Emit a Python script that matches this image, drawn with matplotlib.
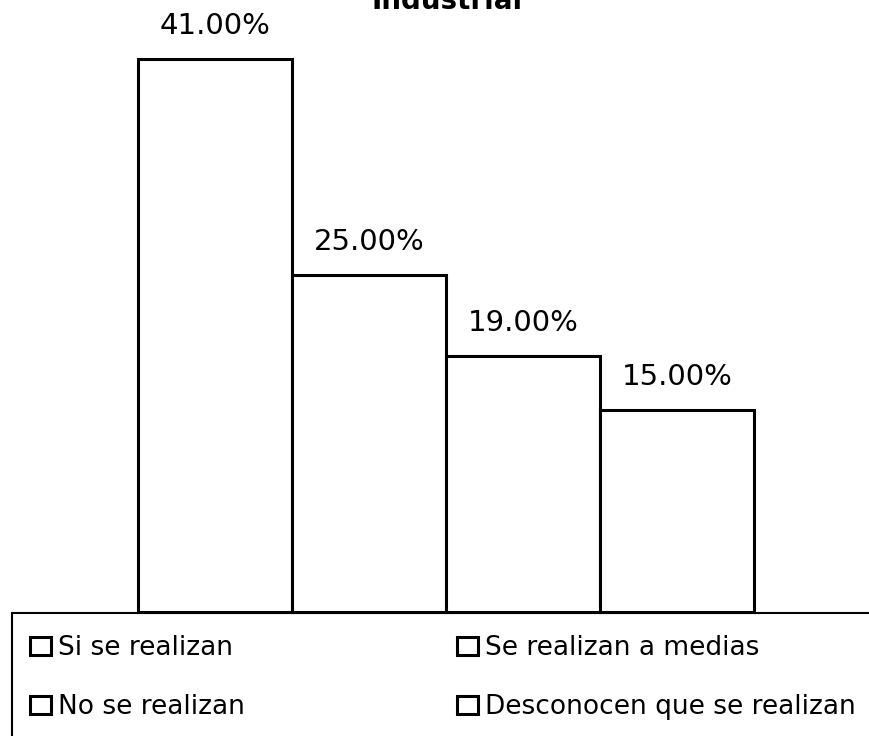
import matplotlib
matplotlib.use("Agg")
import matplotlib.pyplot as plt
from matplotlib.patches import Patch, Rectangle

# datos
categorias = ["Si se realizan", "Se realizan a medias", "No se realizan", "Desconocen que se realizan"]
porcentajes = [41.00, 25.00, 19.00, 15.00]
etiquetas = [f"{v:.2f}%" for v in porcentajes]

W, H = 869, 736
fig = plt.figure(figsize=(W / 100, H / 100), dpi=100)
plt.rcParams["font.family"] = ["DejaVu Sans"]

# ejes colocados en pixeles de la figura
base = 612
ax = fig.add_axes([138 / W, (H - base) / H, (754 - 138) / W, (base - 59) / H])
x = range(len(porcentajes))
barras = ax.bar(x, porcentajes, width=1.0, color="white", edgecolor="black", linewidth=2.2)
for b in barras:
    b.set_clip_on(False)
ax.set_xlim(-0.5, 3.5)
ax.set_ylim(0, 41)
ax.axis("off")

for i, v in enumerate(porcentajes):
    ax.annotate(etiquetas[i], (i, v), xytext=(0, 18), textcoords="offset points",
                ha="center", va="baseline", fontsize=21, annotation_clip=False)

# titulo (cortado arriba en el original)
fig.text(447 / W, (H - 9) / H, "Industrial", ha="center", va="baseline",
         fontsize=20, fontweight="bold")

# caja de la leyenda
fig.add_artist(Rectangle((12 / W, -0.05), 1.0, (H - 613) / H + 0.05,
                         transform=fig.transFigure, fill=False,
                         edgecolor="black", linewidth=1.5))

def leyenda(labels, x0):
    handles = [Patch(facecolor="white", edgecolor="black", linewidth=2.2) for _ in labels]
    leg = fig.legend(handles, labels, loc="upper left",
                     bbox_to_anchor=(x0 / W, (H - 635) / H),
                     frameon=False, fontsize=19, borderpad=0, borderaxespad=0,
                     handlelength=0.8, handleheight=0.65, handletextpad=0.27,
                     labelspacing=1.26)
    return leg

leyenda([categorias[0], categorias[2]], 30)
leyenda([categorias[1], categorias[3]], 457)

fig.savefig("out.png", dpi=100)
